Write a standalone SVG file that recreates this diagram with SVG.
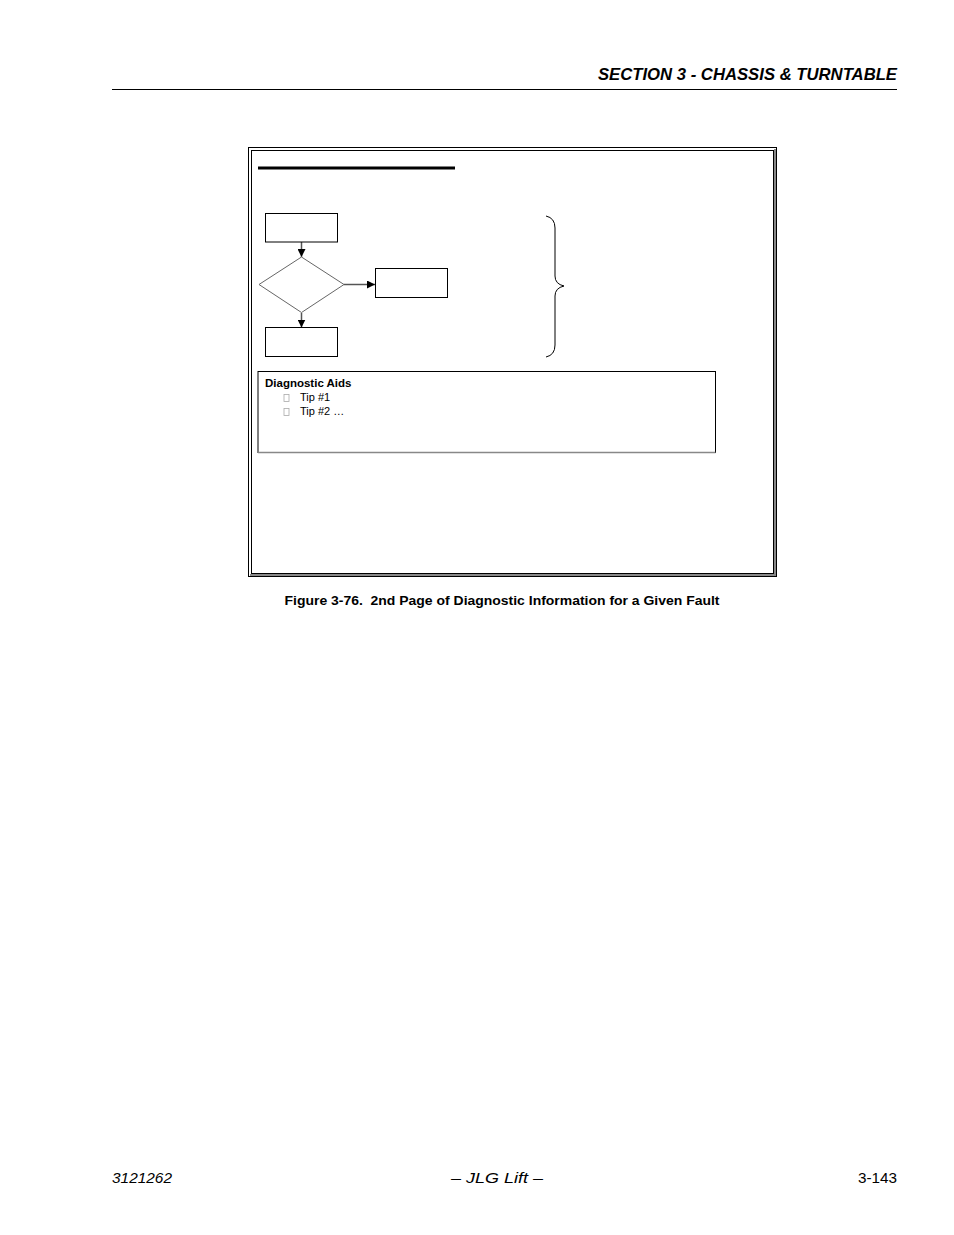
<svg xmlns="http://www.w3.org/2000/svg" width="954" height="1235" viewBox="0 0 954 1235">
<defs>
<marker id="ah" viewBox="0 0 10 10" refX="10" refY="5" markerWidth="8" markerHeight="8" markerUnits="userSpaceOnUse" orient="auto">
<path d="M0,0 L10,5 L0,10 z" fill="#000"/>
</marker>
<style>
.box{fill:#fff;stroke:#000;stroke-width:1}
.conn{stroke:#555;stroke-width:1.5;fill:none}
.hdr{font-family:"Liberation Sans",Arial,sans-serif;font-weight:bold;font-style:italic;font-size:17px}
.ftr{font-family:"Liberation Sans",Arial,sans-serif;font-style:italic;font-size:15px}
.ftrn{font-family:"Liberation Sans",Arial,sans-serif;font-style:normal;font-size:15px}
.cap{font-family:"Liberation Sans",Arial,sans-serif;font-weight:bold;font-size:13.5px}
.aid{font-family:"Liberation Sans",Arial,sans-serif;font-size:11px}
.aidb{font-family:"Liberation Sans",Arial,sans-serif;font-size:11.5px;font-weight:bold}
</style>
</defs>
<rect width="954" height="1235" fill="#fff"/>
<g id="header">
<text class="hdr" x="897" y="80" text-anchor="end" textLength="299" lengthAdjust="spacingAndGlyphs">SECTION 3 - CHASSIS &amp; TURNTABLE</text>
<line x1="112" y1="89.5" x2="897" y2="89.5" stroke="#000" stroke-width="1"/>
</g>
<g id="frame">
<rect x="248.5" y="147.5" width="528" height="429" fill="none" stroke="#000" stroke-width="1"/>
<rect x="251.5" y="150.5" width="522" height="423" fill="none" stroke="#000" stroke-width="1"/>
<line x1="775" y1="149" x2="775" y2="575" stroke="#888" stroke-width="2"/>
<line x1="250" y1="575" x2="776" y2="575" stroke="#888" stroke-width="2"/>
<line x1="258" y1="168" x2="455" y2="168" stroke="#000" stroke-width="3"/>
</g>
<g id="connectors">
<line class="conn" x1="301.5" y1="242" x2="301.5" y2="257" marker-end="url(#ah)"/>
<line class="conn" x1="344" y1="284.5" x2="375" y2="284.5" marker-end="url(#ah)"/>
<line class="conn" x1="301.5" y1="313" x2="301.5" y2="327.5" marker-end="url(#ah)"/>
</g>
<g id="box1"><rect class="box" x="265.5" y="213.5" width="72" height="28.5"/></g>
<g id="decision"><polygon points="301.5,257 344,284.5 301.5,312.5 259,284.5" fill="#fff" stroke="#666" stroke-width="1"/></g>
<g id="box2"><rect class="box" x="375.5" y="268.5" width="72" height="29"/></g>
<g id="box3"><rect class="box" x="265.5" y="327.5" width="72" height="29"/></g>
<g id="brace">
<path d="M546,216 Q555,218 555,228 L555,276 Q555,284 564,286 Q555,288 555,296 L555,345 Q555,355 546,357" fill="none" stroke="#000" stroke-width="1"/>
</g>
<g id="diagnostic-aids">
<rect x="258" y="371.5" width="457.5" height="81" fill="#fff" stroke="#000" stroke-width="1"/>
<line x1="258" y1="452.5" x2="715.5" y2="452.5" stroke="#888" stroke-width="1.5"/>
<text class="aidb" x="265" y="387">Diagnostic Aids</text>
<rect x="284" y="394.5" width="5" height="7" fill="none" stroke="#aaa" stroke-width="0.8"/>
<text class="aid" x="300" y="401">Tip #1</text>
<rect x="284" y="408.5" width="5" height="7" fill="none" stroke="#aaa" stroke-width="0.8"/>
<text class="aid" x="300" y="415">Tip #2 …</text>
</g>
<g id="caption">
<text class="cap" x="502" y="605" text-anchor="middle" textLength="435" lengthAdjust="spacingAndGlyphs" xml:space="preserve">Figure 3-76.  2nd Page of Diagnostic Information for a Given Fault</text>
</g>
<g id="footer">
<text class="ftr" x="112" y="1183" textLength="60" lengthAdjust="spacingAndGlyphs">3121262</text>
<text class="ftr" x="497" y="1183" text-anchor="middle" textLength="92" lengthAdjust="spacingAndGlyphs">– JLG Lift –</text>
<text class="ftrn" x="897" y="1183" text-anchor="end" textLength="39" lengthAdjust="spacingAndGlyphs">3-143</text>
</g>
</svg>
